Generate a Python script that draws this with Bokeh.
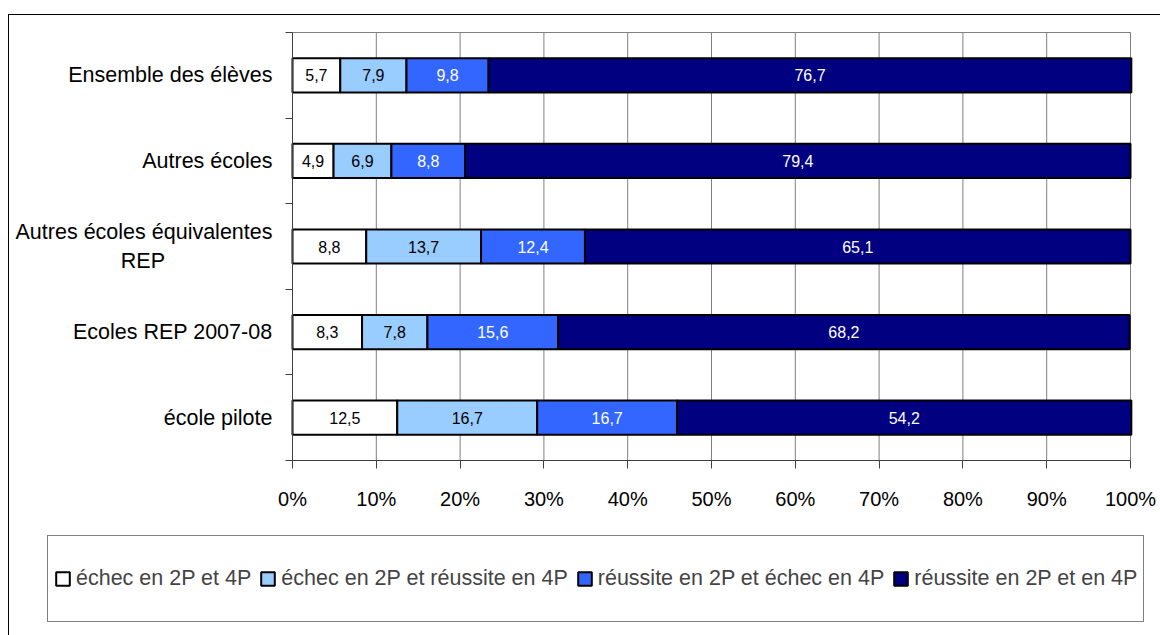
from bokeh.plotting import figure
from bokeh.models import FixedTicker, PrintfTickFormatter, Legend, LegendItem, Range1d, Spacer
from bokeh.layouts import column, row
from bokeh.core.properties import value
from bokeh.embed import file_html
from bokeh.resources import INLINE

categories = ["Ensemble des élèves", "Autres écoles",
              "Autres écoles équivalentes\nREP" + "\u00a0" * 18,
              "Ecoles REP 2007-08", "école pilote"]
series_names = ["échec en 2P et 4P", "échec en 2P et réussite en 4P",
                "réussite en 2P et échec en 4P", "réussite en 2P et en 4P"]
echec_2p_4p = [5.7, 4.9, 8.8, 8.3, 12.5]
echec_2p_reussite_4p = [7.9, 6.9, 13.7, 7.8, 16.7]
reussite_2p_echec_4p = [9.8, 8.8, 12.4, 15.6, 16.7]
reussite_2p_4p = [76.7, 79.4, 65.1, 68.2, 54.2]
x_ticks = [0, 10, 20, 30, 40, 50, 60, 70, 80, 90, 100]

series = [echec_2p_4p, echec_2p_reussite_4p, reussite_2p_echec_4p, reussite_2p_4p]
colors = ["#FFFFFF", "#99CCFF", "#3366FF", "#000080"]
label_colors = ["#000000", "#000000", "#FFFFFF", "#FFFFFF"]

FONT_S = "'Liberation Sans', Arial, sans-serif"

n = len(categories)
ypos = [n - i - 0.5 for i in range(n)]
XMAX = 100

# canvas geometry (pixels): whole figure is the frame; plot area is a sub-rectangle
W, H = 1151, 620
PL, PR, PT, PB = 283, 1121, 17, 445   # plot area edges inside the canvas
sx = (PR - PL) / XMAX
sy = (PB - PT) / n
x_range = Range1d(-PL / sx, XMAX + (W - PR) / sx)
y_range = Range1d(-(H - PB) / sy, n + PT / sy)

p = figure(width=W, height=H, x_range=x_range, y_range=y_range,
           output_backend="svg", toolbar_location=None,
           min_border=0, min_border_left=0, min_border_right=0,
           min_border_top=0, min_border_bottom=0)
p.background_fill_color = "white"
p.border_fill_color = "white"
p.outline_line_color = None
p.xgrid.visible = False
p.ygrid.visible = False

# plot-area outline and vertical gridlines
p.quad(left=[0], right=[XMAX], bottom=[0], top=[n], fill_color=None,
       line_color="#808080", line_width=1)
p.segment(x0=x_ticks, y0=[0] * len(x_ticks), x1=x_ticks, y1=[n] * len(x_ticks),
          line_color="#808080", line_width=1)

renderers = []
left = [0.0] * n
for vals, col, lcol in zip(series, colors, label_colors):
    right = [l + v for l, v in zip(left, vals)]
    r = p.hbar(y=ypos, left=left, right=right, height=0.4, fill_color=col,
               line_color="black", line_width=2)
    renderers.append(r)
    mids = [(l + rr) / 2 for l, rr in zip(left, right)]
    txt = [f"{v:.1f}".replace(".", ",") for v in vals]
    p.text(x=mids, y=ypos, text=txt, text_align="center", text_baseline="middle",
           text_font=value(FONT_S), text_font_size="16px", text_color=lcol)
    left = right

xa = p.xaxis[0]
xa.fixed_location = 0
xa.bounds = (0, XMAX)
xa.ticker = FixedTicker(ticks=x_ticks)
xa.formatter = PrintfTickFormatter(format="%d%%")
xa.major_tick_out = 8
xa.major_tick_in = 0
xa.minor_tick_out = 0
xa.axis_line_color = "#404040"
xa.major_tick_line_color = "#404040"
xa.major_label_text_font = FONT_S
xa.major_label_text_font_size = "20px"
xa.major_label_text_color = "#000000"
xa.major_label_standoff = 19

ya = p.yaxis[0]
ya.fixed_location = 0
ya.bounds = (0, n)
ya.ticker = FixedTicker(ticks=ypos, minor_ticks=list(range(n + 1)))
ya.major_label_overrides = {y: c for y, c in zip(ypos, categories)}
ya.major_tick_out = 0
ya.major_tick_in = 0
ya.minor_tick_out = 7
ya.minor_tick_in = 0
ya.minor_tick_line_color = "#404040"
ya.axis_line_color = "#404040"
ya.major_label_text_font = FONT_S
ya.major_label_text_font_size = "21.5px"
ya.major_label_text_color = "#000000"
ya.major_label_standoff = 13

legend = Legend(items=[LegendItem(label=nm, renderers=[r]) for nm, r in zip(series_names, renderers)],
                orientation="horizontal", location=(38, 13), margin=0, padding=6,
                glyph_width=17, glyph_height=17, label_standoff=5, spacing=8,
                label_height=73,
                label_text_font=FONT_S, label_text_font_size="21.5px",
                border_line_color="black", border_line_width=1,
                background_fill_color="white", background_fill_alpha=1)
p.add_layout(legend)

inner = column(p, spacing=0,
               styles={"border-left": "1px solid #000000", "border-top": "1px solid #000000"})
layout = row(Spacer(width=8, height=10), column(Spacer(height=14, width=W), inner, spacing=0), spacing=0)
open("out.html", "w").write(file_html(layout, INLINE))
